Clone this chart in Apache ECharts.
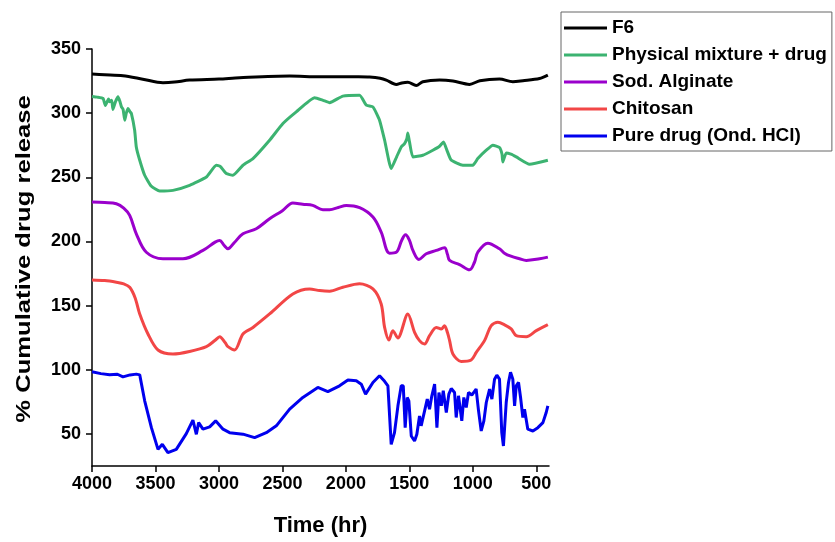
<!DOCTYPE html>
<html lang="en">
<head>
<meta charset="UTF-8">
<title>Cumulative drug release</title>
<style>
  html, body { margin: 0; padding: 0; background: #fff; }
  #chart { width: 835px; height: 542px; }
</style>
</head>
<body>
<div id="chart"></div>
<script src="https://cdn.jsdelivr.net/npm/echarts@6/dist/echarts.min.js"></script>
<script>
// values (x = wavenumber axis labelled "Time (hr)")
var seriesNames = ['F6', 'Physical mixture + drug', 'Sod. Alginate', 'Chitosan', 'Pure drug (Ond. HCl)'];
var seriesColors = ['#000000', '#3cb371', '#9a00cc', '#f24646', '#0000ee'];

var xTicks = [4000, 3500, 3000, 2500, 2000, 1500, 1000, 500];
var yTicks = [50, 100, 150, 200, 250, 300, 350];

var f6X = [4000, 3900, 3756, 3600, 3441, 3350, 3231, 3000, 2837, 2443, 2207, 1900, 1813, 1730, 1682, 1603, 1560, 1512, 1446, 1394, 1262, 1157, 1026, 945, 790, 685, 606, 475, 409];
var f6Y = [330.5, 330, 329.2, 326.5, 323.7, 324.2, 325.8, 326.6, 327.6, 328.9, 328.4, 328.4, 328.2, 327.2, 325.8, 322.4, 323.5, 324, 321.6, 324.5, 325.8, 325, 322.4, 325.3, 326.6, 324.5, 325.3, 327, 329.7];

var mixX = [4000, 3960, 3913, 3895, 3870, 3861, 3845, 3835, 3815, 3795, 3780, 3768, 3755, 3742, 3730, 3716, 3700, 3690, 3664, 3651, 3624, 3585, 3532, 3467, 3362, 3231, 3099, 3021, 2990, 2942, 2890, 2811, 2732, 2601, 2496, 2391, 2246, 2180, 2128, 2024, 1892, 1839, 1787, 1735, 1695, 1643, 1600, 1564, 1538, 1520, 1512, 1499, 1472, 1394, 1315, 1262, 1231, 1200, 1170, 1079, 1000, 961, 894, 842, 790, 770, 764, 737, 700, 658, 553, 409];
var mixY = [313, 312.5, 311.5, 306, 311, 308.8, 310, 302.9, 309, 312.7, 309, 304.9, 303, 294.5, 300, 303.7, 301, 299.8, 286.7, 273.7, 263.3, 251.6, 243, 239.3, 239.8, 243.7, 250.2, 259.4, 258.5, 252.9, 251.6, 259.4, 264.6, 278.9, 291.9, 301, 312, 310, 308.2, 313.3, 314, 306.3, 304.9, 294.5, 278.9, 256.8, 266, 273.7, 276.3, 280, 284.6, 277.6, 265.9, 267.2, 271.1, 274.2, 277.6, 270, 263.3, 259.4, 259.4, 264.6, 271.1, 275, 273.2, 268, 262, 269, 268, 265.9, 260.2, 263.3];

var algX = [4000, 3900, 3808, 3750, 3703, 3651, 3572, 3441, 3284, 3126, 3030, 2994, 2960, 2929, 2880, 2811, 2706, 2601, 2500, 2418, 2340, 2261, 2181, 2128, 2060, 1997, 1892, 1787, 1722, 1656, 1603, 1560, 1530, 1500, 1472, 1425, 1367, 1288, 1223, 1200, 1183, 1105, 1026, 987, 961, 882, 790, 751, 700, 632, 579, 474, 409];
var algY = [230.7, 230.3, 229.4, 226, 220.3, 206, 191.6, 186.5, 186.5, 193, 199.5, 200.8, 197, 194.3, 199, 206, 209.9, 217.7, 224, 230, 229, 228.1, 224.8, 224.8, 226.5, 228.1, 226.3, 219, 207.3, 190.9, 191.6, 201, 205.2, 201, 193, 186, 190.4, 193, 195.1, 190, 185.2, 182, 177.9, 183.8, 191.6, 198.7, 194.3, 190.9, 188.5, 186.5, 185.2, 186.5, 187.8];

var chiX = [4000, 3900, 3808, 3750, 3703, 3660, 3624, 3559, 3480, 3362, 3231, 3099, 3030, 2994, 2950, 2929, 2876, 2811, 2732, 2601, 2418, 2286, 2207, 2128, 2024, 1892, 1787, 1722, 1695, 1661, 1630, 1591, 1512, 1459, 1420, 1380, 1341, 1288, 1249, 1223, 1200, 1183, 1157, 1092, 1013, 973, 908, 855, 803, 750, 698, 658, 579, 500, 409];
var chiY = [170, 169.5, 168.2, 167, 164.3, 156, 143.5, 127.9, 115.4, 112.3, 114.3, 118, 123, 125.8, 121, 118, 115.4, 127.9, 133, 143.5, 159.1, 163, 161.7, 161.2, 164.3, 167, 163, 151.3, 133, 123.2, 130.5, 124.8, 143.5, 129.2, 122.7, 120.1, 126.6, 133, 131.7, 134.4, 129, 122.7, 112.3, 106.5, 107.6, 113.5, 122.7, 134.4, 137, 135, 131.8, 126.6, 125.8, 130.5, 135.2];

var pureX = [4000, 3930, 3861, 3800, 3756, 3700, 3651, 3624, 3585, 3532, 3480, 3446, 3402, 3336, 3257, 3205, 3178, 3160, 3126, 3073, 3026, 2968, 2916, 2811, 2719, 2627, 2548, 2443, 2339, 2221, 2142, 2050, 1984, 1918, 1879, 1845, 1787, 1735, 1695, 1669, 1643, 1617, 1590, 1564, 1548, 1533, 1517, 1504, 1485, 1459, 1441, 1420, 1407, 1380, 1359, 1341, 1323, 1301, 1283, 1267, 1248, 1233, 1209, 1189, 1170, 1144, 1131, 1113, 1087, 1071, 1052, 1034, 1008, 974, 955, 934, 913, 894, 868, 850, 829, 811, 790, 772, 759, 737, 719, 703, 685, 671, 658, 640, 624, 606, 593, 567, 527, 488, 448, 422, 409];
var pureY = [98.4, 97, 96.1, 96.5, 94.5, 96, 96.6, 96, 75.8, 54.9, 38, 41.9, 35.4, 38, 50.2, 60.7, 49.7, 58.8, 53.7, 55.5, 60.2, 53.7, 51, 49.8, 47.1, 51, 56.3, 69.3, 78.4, 86.2, 83, 87.5, 92, 91.4, 88.8, 81, 90.1, 95.3, 91, 87.5, 41.9, 51, 71.9, 87.5, 87.5, 54.9, 78.4, 75.8, 48.4, 44.5, 49.8, 64, 56.3, 68, 77.1, 69.3, 79.7, 88.8, 54.9, 82.3, 71.9, 83.6, 66.7, 81, 85.4, 82.3, 62.8, 79.7, 60.2, 78.4, 70.6, 82.3, 80.3, 85, 68, 52.3, 60.2, 74.5, 85, 77.1, 92.7, 95.8, 92.7, 51, 40.6, 74.5, 90.1, 98, 92.7, 71.9, 87.5, 90.1, 78.4, 62.8, 69.3, 53.7, 52.3, 54.9, 58.8, 66.7, 71.9];

function zip(xs, ys) {
  var out = [];
  for (var i = 0; i < Math.min(xs.length, ys.length); i++) out.push([xs[i], ys[i]]);
  return out;
}

var allX = [f6X, mixX, algX, chiX, pureX];
var allY = [f6Y, mixY, algY, chiY, pureY];
var smoothing = [0.3, 0.15, 0.35, 0.3, false];

var font = '"Liberation Sans", Arial, Helvetica, sans-serif';

var chart = echarts.init(document.getElementById('chart'), null, { renderer: 'canvas' });

var series = seriesNames.map(function (name, i) {
  return {
    name: name,
    type: 'line',
    data: zip(allX[i], allY[i]),
    showSymbol: false,
    smooth: smoothing[i],
    lineStyle: { color: seriesColors[i], width: 3 },
    itemStyle: { color: seriesColors[i] },
    emphasis: { disabled: true },
    animation: false
  };
});

chart.setOption({
  animation: false,
  textStyle: { fontFamily: font },
  grid: { left: 92, top: 49, width: 457, height: 417, containLabel: false },
  // y title in the reference is drawn tall and narrow, so stretch it along its length
  graphic: [{
    type: 'text',
    x: 24,
    y: 259,
    rotation: Math.PI / 2,
    scaleX: 1.22,
    style: {
      text: '% Cumulative drug release',
      font: 'bold 21px ' + font,
      fill: '#000',
      textAlign: 'center',
      textVerticalAlign: 'middle'
    }
  }],
  legend: {
    orient: 'vertical',
    left: 561,
    top: 12,
    padding: [6, 5, 5, 3],
    itemGap: 7,
    itemWidth: 43,
    itemHeight: 3,
    icon: 'rect',
    borderColor: '#666',
    borderWidth: 1,
    data: seriesNames,
    textStyle: { fontFamily: font, fontSize: 19, fontWeight: 'bold', color: '#000', lineHeight: 20 }
  },
  xAxis: {
    type: 'value',
    inverse: true,
    min: 400,
    max: 4000,
    name: 'Time (hr)',
    nameLocation: 'middle',
    nameGap: 49,
    nameTextStyle: { fontFamily: font, fontSize: 22, fontWeight: 'bold', color: '#000' },
    axisLine: { show: true, onZero: false, lineStyle: { color: '#000', width: 1.5 } },
    axisTick: { show: true, length: 6, lineStyle: { color: '#000', width: 1.5 }, customValues: xTicks },
    axisLabel: {
      fontFamily: font, fontSize: 18, fontWeight: 'bold', color: '#000', margin: 9,
      customValues: xTicks,
      formatter: function (v) { return String(v); }
    },
    splitLine: { show: false }
  },
  yAxis: {
    type: 'value',
    min: 25,
    max: 350,
    axisLine: { show: true, onZero: false, lineStyle: { color: '#000', width: 1.5 } },
    axisTick: { show: true, length: 6, lineStyle: { color: '#000', width: 1.5 }, customValues: yTicks },
    axisLabel: {
      fontFamily: font, fontSize: 18, fontWeight: 'bold', color: '#000', margin: 11,
      customValues: yTicks,
      formatter: function (v) { return String(v); }
    },
    splitLine: { show: false }
  },
  series: series
});
</script>
</body>
</html>
